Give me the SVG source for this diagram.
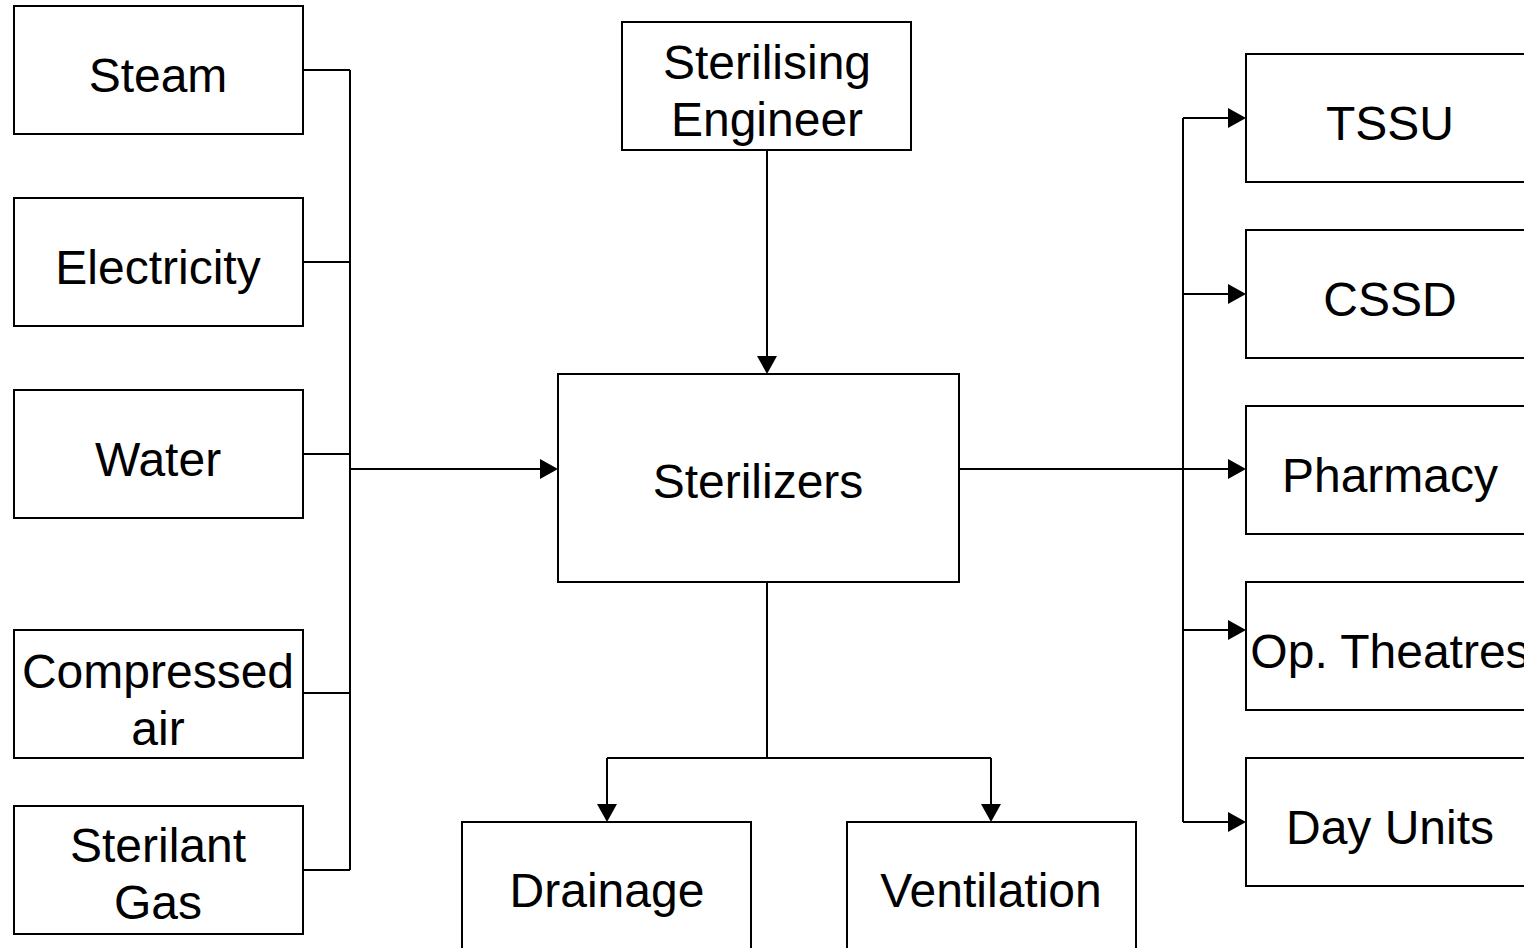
<svg xmlns="http://www.w3.org/2000/svg" width="1524" height="948" viewBox="0 0 1524 948">
  <defs>
    <style>
      rect { fill: #fff; stroke: #000; stroke-width: 2; }
      text { font-family: "Liberation Sans", Arial, sans-serif; font-size: 48px; fill: #000; text-anchor: middle; }
      .wire { fill: none; stroke: #000; stroke-width: 2; }
      .head { fill: #000; stroke: none; }
    </style>
  </defs>
  <rect x="0" y="0" width="1524" height="948" style="fill:#fff;stroke:none"/>

  <!-- connectors -->
  <g id="connectors">
    <!-- supplies bus -->
    <path class="wire" d="M303,70 H350 M303,262 H350 M303,454 H350 M303,693 H350 M303,870 H350 M350,70 V870"/>
    <path class="wire" d="M350,469 H540"/>
    <path class="head" d="M540,459 L558,469 L540,479 Z"/>
    <!-- engineer to sterilizers -->
    <path class="wire" d="M767,150 V356"/>
    <path class="head" d="M757,356 L767,374 L777,356 Z"/>
    <!-- sterilizers to services -->
    <path class="wire" d="M767,582 V758 M607,758 H991 M607,758 V804 M991,758 V804"/>
    <path class="head" d="M597,804 L607,822 L617,804 Z"/>
    <path class="head" d="M981,804 L991,822 L1001,804 Z"/>
    <!-- sterilizers to users -->
    <path class="wire" d="M959,469 H1228 M1183,118 V822 M1183,118 H1228 M1183,294 H1228 M1183,630 H1228 M1183,822 H1228"/>
    <path class="head" d="M1228,108 L1246,118 L1228,128 Z"/>
    <path class="head" d="M1228,284 L1246,294 L1228,304 Z"/>
    <path class="head" d="M1228,459 L1246,469 L1228,479 Z"/>
    <path class="head" d="M1228,620 L1246,630 L1228,640 Z"/>
    <path class="head" d="M1228,812 L1246,822 L1228,832 Z"/>
  </g>

  <!-- supplies -->
  <g id="steam"><rect x="14" y="6" width="289" height="128"/><text x="158" y="92">Steam</text></g>
  <g id="electricity"><rect x="14" y="198" width="289" height="128"/><text x="158" y="284">Electricity</text></g>
  <g id="water"><rect x="14" y="390" width="289" height="128"/><text x="158" y="476">Water</text></g>
  <g id="compressed-air"><rect x="14" y="630" width="289" height="128"/><text x="158" y="688">Compressed</text><text x="158" y="745">air</text></g>
  <g id="sterilant-gas"><rect x="14" y="806" width="289" height="128"/><text x="158" y="862">Sterilant</text><text x="158" y="919">Gas</text></g>

  <!-- centre -->
  <g id="engineer"><rect x="622" y="22" width="289" height="128"/><text x="767" y="79">Sterilising</text><text x="767" y="136">Engineer</text></g>
  <g id="sterilizers"><rect x="558" y="374" width="401" height="208"/><text x="758" y="498">Sterilizers</text></g>

  <!-- services -->
  <g id="drainage"><rect x="462" y="822" width="289" height="140"/><text x="607" y="907">Drainage</text></g>
  <g id="ventilation"><rect x="847" y="822" width="289" height="140"/><text x="991" y="907">Ventilation</text></g>

  <!-- users -->
  <g id="tssu"><rect x="1246" y="54" width="290" height="128"/><text x="1390" y="140">TSSU</text></g>
  <g id="cssd"><rect x="1246" y="230" width="290" height="128"/><text x="1390" y="316">CSSD</text></g>
  <g id="pharmacy"><rect x="1246" y="406" width="290" height="128"/><text x="1390" y="492">Pharmacy</text></g>
  <g id="op-theatres"><rect x="1246" y="582" width="290" height="128"/><text x="1390" y="668">Op. Theatres</text></g>
  <g id="day-units"><rect x="1246" y="758" width="290" height="128"/><text x="1390" y="844">Day Units</text></g>
</svg>
